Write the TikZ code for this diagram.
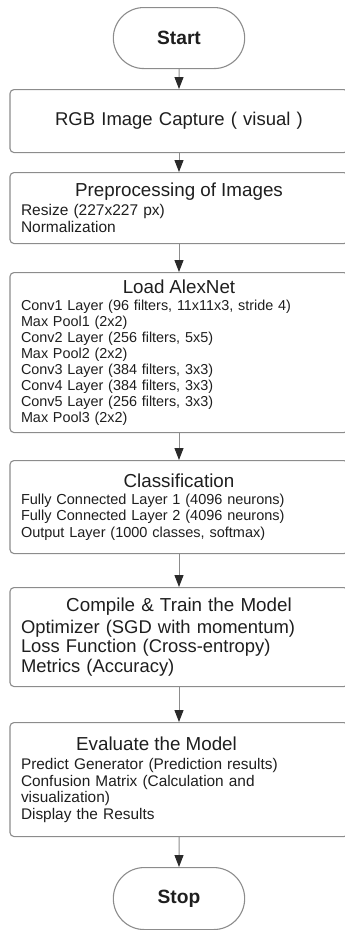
\documentclass[tikz,border=0pt]{standalone}
\usepackage{fontspec}
\setmainfont{Liberation Sans}
\usetikzlibrary{arrows.meta,positioning,shapes.misc}

\definecolor{boxline}{HTML}{8C8C8C}
\definecolor{inkgray}{HTML}{1E1E1E}
\definecolor{headgray}{HTML}{2A2A2A}

\newcommand{\sttitle}[2][\linewidth]{\makebox[#1][c]{\fontsize{18.8}{20}\selectfont #2}}

\begin{document}
\begin{tikzpicture}[
  x=1pt, y=-1pt,
  >={Triangle[width=9pt,length=12pt,color=headgray]},
  every node/.style={text=inkgray},
  terminal/.style={draw=boxline, line width=1.1pt, rounded rectangle,
                   minimum width=138pt, minimum height=61pt, anchor=north,
                   font=\fontsize{19.2}{22}\selectfont\bfseries},
  stage/.style={draw=boxline, line width=1.1pt, rounded corners=4pt,
                text width=316pt, inner xsep=11pt, inner ysep=0pt,
                align=left, anchor=north},
  flow/.style={draw=boxline, line width=1pt, ->},
]
\useasboundingbox (0,0) rectangle (345,930);

% start / stop
\node[terminal] (start) at (179,7) {Start};
\node[terminal, minimum height=62pt] (stop) at (179,867) {Stop};

% stages
\node[stage, align=center, minimum height=63pt,
      font=\fontsize{18.5}{20}\selectfont] (capture) at (179,89)
  {RGB Image Capture ( visual )};

\node[stage, minimum height=71pt, font=\fontsize{15.5}{17}\selectfont] (prep) at (179,172)
  {\sttitle{Preprocessing of Images}\\[2pt]
   Resize (227x227 px)\\
   Normalization};

\node[stage, minimum height=160pt, font=\fontsize{14.4}{16}\selectfont] (alexnet) at (179,272)
  {\sttitle{Load AlexNet}\\[0.5pt]
   Conv1 Layer (96 filters, 11x11x3, stride 4)\\
   Max Pool1 (2x2)\\
   Conv2 Layer (256 filters, 5x5)\\
   Max Pool2 (2x2)\\
   Conv3 Layer (384 filters, 3x3)\\
   Conv4 Layer (384 filters, 3x3)\\
   Conv5 Layer (256 filters, 3x3)\\
   Max Pool3 (2x2)};

\node[stage, minimum height=93pt, font=\fontsize{14.5}{16.5}\selectfont] (classify) at (179,460)
  {\sttitle{Classification}\\
   Fully Connected Layer 1 (4096 neurons)\\
   Fully Connected Layer 2 (4096 neurons)\\
   Output Layer (1000 classes, softmax)};

\node[stage, minimum height=99pt, font=\fontsize{18.4}{19.5}\selectfont] (train) at (179,587)
  {\sttitle{Compile \& Train the Model}\\[2pt]
   Optimizer (SGD with momentum)\\
   Loss Function (Cross-entropy)\\
   Metrics (Accuracy)};

\node[stage, minimum height=114pt, font=\fontsize{15.4}{16.5}\selectfont] (evaluate) at (179,722)
  {\sttitle[271pt]{Evaluate the Model}\\[2.5pt]
   Predict Generator (Prediction results)\\
   Confusion Matrix (Calculation and\\
   visualization)\\
   Display the Results};

% arrows
\draw[flow] (start) -- (capture);
\draw[flow] (capture) -- (prep);
\draw[flow] (prep) -- (alexnet);
\draw[flow] (alexnet) -- (classify);
\draw[flow] (classify) -- (train);
\draw[flow] (train) -- (evaluate);
\draw[flow] (evaluate) -- (stop);
\end{tikzpicture}
\end{document}
